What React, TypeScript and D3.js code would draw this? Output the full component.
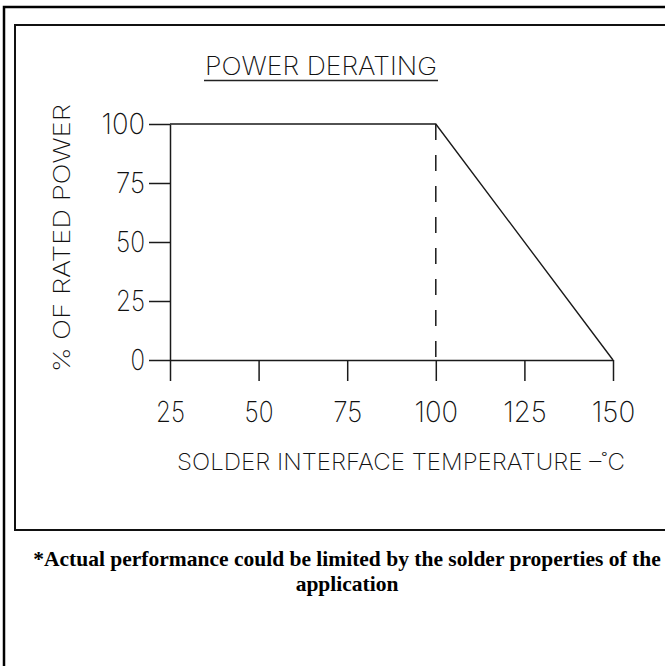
import { useEffect, useRef } from "react";
import * as d3 from "d3";

// derating curve
const curveTemp = [25, 100, 150];
const curvePower = [100, 100, 0];
const kneeTemp = 100;

const tempTicks = [25, 50, 75, 100, 125, 150];
const powerTicks = [0, 25, 50, 75, 100];

const chartTitle = "POWER DERATING";
const xTitle = "SOLDER INTERFACE TEMPERATURE \u2013\u02DAC";
const yTitle = "% OF RATED POWER";
const noteLines = [
  "*Actual performance could be limited by the solder properties of the",
  "application",
];

const W = 665;
const H = 666;
const cadFont = "Inter, 'DejaVu Sans', sans-serif";

export default function App() {
  const svgRef = useRef<SVGSVGElement>(null);

  useEffect(() => {
    document.body.style.margin = "0";
    if (!svgRef.current) return;
    const svg = d3.select(svgRef.current);
    svg.selectAll("*").remove();

    const x = d3.scaleLinear().domain([25, 150]).range([170, 613]);
    const y = d3.scaleLinear().domain([0, 100]).range([360, 124]);

    // frames
    svg
      .append("rect")
      .attr("x", 4)
      .attr("y", 7)
      .attr("width", 800)
      .attr("height", 800)
      .attr("fill", "none")
      .attr("stroke", "#000")
      .attr("stroke-width", 2.5);
    svg
      .append("rect")
      .attr("x", 15)
      .attr("y", 25)
      .attr("width", 800)
      .attr("height", 505)
      .attr("fill", "none")
      .attr("stroke", "#111")
      .attr("stroke-width", 2);

    // title
    svg
      .append("text")
      .attr("x", 205)
      .attr("y", 75)
      .attr("textLength", 232)
      .attr("lengthAdjust", "spacingAndGlyphs")
      .style("font-family", cadFont)
      .style("font-weight", 250)
      .style("font-size", "25px")
      .attr("fill", "#111")
      .text(chartTitle);
    svg
      .append("line")
      .attr("x1", 204)
      .attr("x2", 438)
      .attr("y1", 80.5)
      .attr("y2", 80.5)
      .attr("stroke", "#222")
      .attr("stroke-width", 1.3);

    // axes
    const yAxis = d3
      .axisLeft(y)
      .tickValues(powerTicks)
      .tickSize(21)
      .tickSizeOuter(0)
      .tickPadding(4)
      .tickFormat(d => String(d));
    const gy = svg.append("g").attr("transform", "translate(170,0)").call(yAxis);

    const xAxis = d3
      .axisBottom(x)
      .tickValues(tempTicks)
      .tickSize(21)
      .tickSizeOuter(0)
      .tickPadding(20)
      .tickFormat(d => String(d));
    const gx = svg.append("g").attr("transform", `translate(0,${y(0)})`).call(xAxis);

    [gx, gy].forEach(g => {
      g.attr("font-family", null).attr("font-size", null);
      g.selectAll("path, line").attr("stroke", "#1a1a1a").attr("stroke-width", 1.5);
      g.selectAll<SVGTextElement, number>("text")
        .style("font-family", cadFont)
        .style("font-weight", 250)
        .style("font-size", "29px")
        .attr("fill", "#111")
        .attr("textLength", d => String(d).length * 14.5)
        .attr("lengthAdjust", "spacingAndGlyphs");
    });

    // knee marker
    svg
      .append("line")
      .attr("x1", x(kneeTemp))
      .attr("x2", x(kneeTemp))
      .attr("y1", y(100))
      .attr("y2", y(0))
      .attr("stroke", "#1a1a1a")
      .attr("stroke-width", 1.5)
      .attr("stroke-dasharray", "16,15");

    // curve
    const line = d3
      .line<number>()
      .x((_, i) => x(curveTemp[i]))
      .y(d => y(d));
    svg
      .append("path")
      .datum(curvePower)
      .attr("fill", "none")
      .attr("stroke", "#1a1a1a")
      .attr("stroke-width", 1.4)
      .attr("d", line);

    // axis titles
    svg
      .append("text")
      .attr("x", 177)
      .attr("y", 470)
      .attr("textLength", 448)
      .attr("lengthAdjust", "spacingAndGlyphs")
      .style("font-family", cadFont)
      .style("font-weight", 250)
      .style("font-size", "23px")
      .attr("fill", "#111")
      .text(xTitle);
    svg
      .append("text")
      .attr("transform", "translate(70,372) rotate(-90)")
      .attr("textLength", 268)
      .attr("lengthAdjust", "spacingAndGlyphs")
      .style("font-family", cadFont)
      .style("font-weight", 250)
      .style("font-size", "23px")
      .attr("fill", "#111")
      .text(yTitle);

    // footnote
    svg
      .selectAll(".note")
      .data(noteLines)
      .enter()
      .append("text")
      .attr("class", "note")
      .attr("x", 347)
      .attr("y", (_, i) => 566 + i * 25)
      .attr("text-anchor", "middle")
      .style("font-family", "'Liberation Serif', 'Times New Roman', serif")
      .style("font-weight", "bold")
      .style("font-size", "21.5px")
      .attr("fill", "#000")
      .text(d => d);
  }, []);

  return <svg ref={svgRef} width={W} height={H} style={{ display: "block", background: "#fff" }} />;
}
